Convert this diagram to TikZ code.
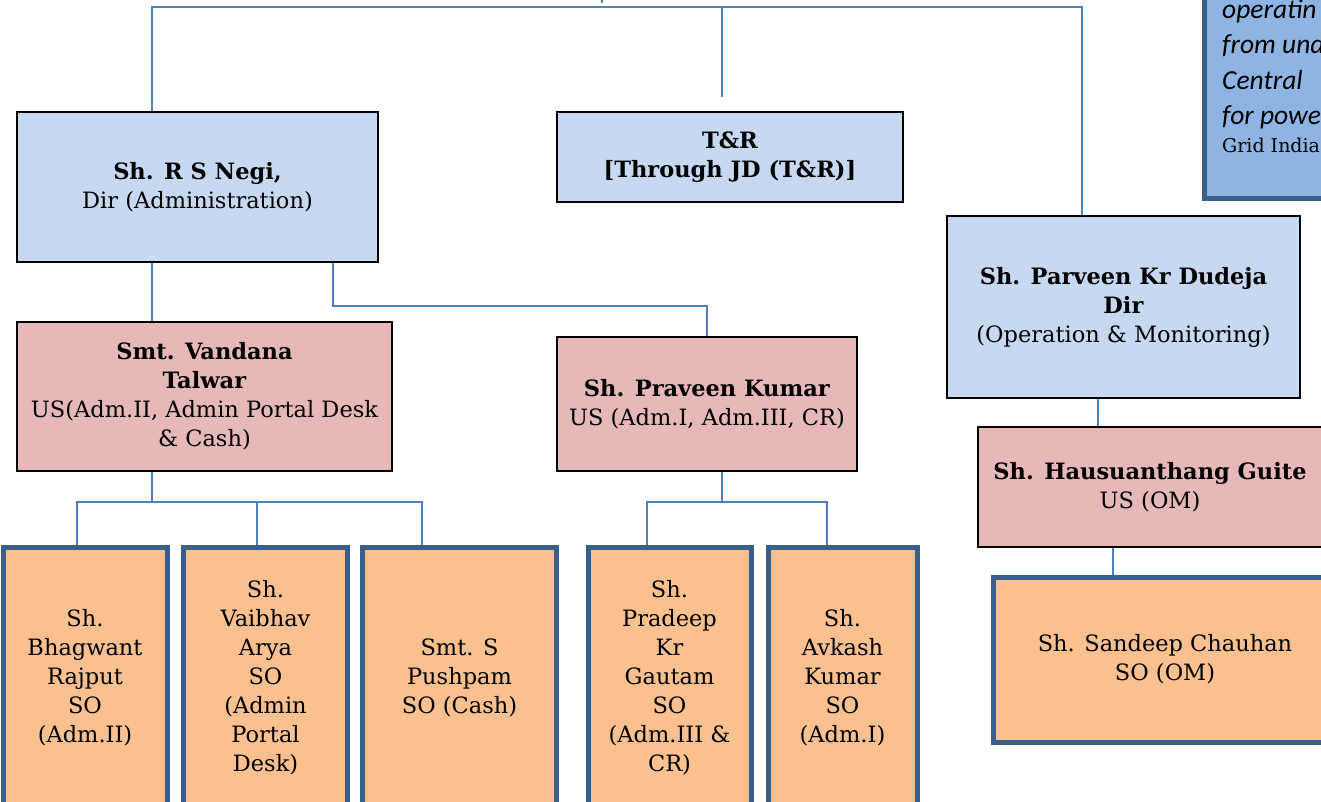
\documentclass[tikz,border=0pt]{standalone}
\usepackage{fontspec}
\setmainfont{DejaVu Serif}
\newfontfamily\notefont{Carlito}
\usetikzlibrary{backgrounds}
\definecolor{dirblue}{HTML}{C6D9F1}
\definecolor{uspink}{HTML}{E6B9B8}
\definecolor{soorange}{HTML}{FAC090}
\definecolor{soframe}{HTML}{3B5F8D}
\definecolor{linkblue}{HTML}{4F81BD}
\definecolor{notefill}{HTML}{8EB4E3}

\begin{document}
\begin{tikzpicture}[x=1pt,y=-1pt,
		box/.style={rectangle,align=center,inner sep=0pt,font=\fontsize{22.5}{29}\selectfont},
		dirbox/.style={box,fill=dirblue,draw=black,line width=2pt},
		usbox/.style={box,fill=uspink,draw=black,line width=2pt},
		sobox/.style={box,fill=soorange,draw=soframe,line width=5pt,minimum height=262pt},
		notetext/.style={anchor=base west,inner sep=0pt,font=\notefont\itshape\fontsize{27.5}{36}\selectfont},
		link/.style={draw=linkblue,line width=2.5pt}]
		\useasboundingbox (0,0) rectangle (1321,802);

		% note box, cut by the page edge
		\node[rectangle,draw=soframe,fill=notefill,line width=4.5pt,minimum width=160pt,minimum height=230pt,anchor=south west] (note) at (1202,201) {};
		\node[notetext] (note1) at (1222,19) {operatin};
		\node[notetext] (note2) at (1222,54) {from und};
		\node[notetext] (note3) at (1222,90) {Central};
		\node[notetext] (note4) at (1222,125) {for powe};
		\node[anchor=base west,inner sep=0pt,font=\fontsize{19}{22}\selectfont] (note5) at (1222,153) {Grid India};

		% directors
		\node[dirbox,minimum width=361pt,minimum height=150pt] (negi) at (197.5,187) {\textbf{Sh. R S Negi,}\\Dir (Administration)};
		\node[dirbox,minimum width=346pt,minimum height=90pt] (tr) at (730,157) {\textbf{T\&R}\\\textbf{[Through JD (T\&R)]}};
		\node[dirbox,minimum width=353pt,minimum height=182pt] (dudeja) at (1123.5,307) {\textbf{Sh. Parveen Kr Dudeja}\\\textbf{Dir}\\(Operation \& Monitoring)};

		% under secretaries
		\node[usbox,minimum width=375pt,minimum height=149pt] (vandana) at (204.5,396.5) {\textbf{Smt. Vandana}\\\textbf{Talwar}\\US(Adm.II, Admin Portal Desk\\\& Cash)};
		\node[usbox,minimum width=300pt,minimum height=134pt] (praveen) at (707,404) {\textbf{Sh. Praveen Kumar}\\US (Adm.I, Adm.III, CR)};
		\node[usbox,minimum width=344pt,minimum height=120pt] (guite) at (1150,487) {\textbf{Sh. Hausuanthang Guite}\\US (OM)};

		% section officers
		\node[sobox,minimum width=164pt] (bhagwant) at (85,678) {Sh.\\Bhagwant\\Rajput\\SO\\(Adm.II)};
		\node[sobox,minimum width=164pt] (vaibhav) at (265.5,678) {Sh.\\Vaibhav\\Arya\\SO\\(Admin\\Portal\\Desk)};
		\node[sobox,minimum width=194pt] (pushpam) at (459.5,678) {Smt. S\\Pushpam\\SO (Cash)};
		\node[sobox,minimum width=163pt] (pradeep) at (669.5,678) {Sh.\\Pradeep\\Kr\\Gautam\\SO\\(Adm.III \&\\CR)};
		\node[sobox,minimum width=149pt] (avkash) at (842.5,678) {Sh.\\Avkash\\Kumar\\SO\\(Adm.I)};
		\node[sobox,minimum width=344pt,minimum height=165pt] (sandeep) at (1165,659.5) {Sh. Sandeep Chauhan\\SO (OM)};

		\coordinate (busL) at (152,7);
		\coordinate (busR) at (1082,7);
		\coordinate (up) at (602,0);
		\coordinate (trtap) at (722,97);
		\coordinate (adm) at (333,306);
		\coordinate (vbus) at (152,502);
		\coordinate (t1) at (77,502);
		\coordinate (t2) at (257,502);
		\coordinate (t3) at (422,502);
		\coordinate (pbus) at (722,502);
		\coordinate (t4) at (647,502);
		\coordinate (t5) at (827,502);
		\coordinate (om1) at (1098,0);
		\coordinate (om2) at (1113,0);

		\begin{scope}[on background layer]
		\draw[link] (negi.north -| busL) -- (busL) -- (busR) -- (dudeja.north -| busR);
		\draw[link] (up) -- ([yshift=4pt]up |- busL);
		\draw[link] (trtap |- busL) -- (trtap);

		\draw[link] (negi.south -| busL) -- (vandana.north -| busL);
		\draw[link] (negi.south -| adm) -- (adm) -| (praveen.north);

		\draw[link] (vandana.south -| vbus) -- (vbus);
		\draw[link] (bhagwant.north -| t1) -- (t1) -- (t3) -- (pushpam.north -| t3);
		\draw[link] (t2) -- (vaibhav.north -| t2);

		\draw[link] (praveen.south -| pbus) -- (pbus);
		\draw[link] (pradeep.north -| t4) -- (t4) -- (t5) -- (avkash.north -| t5);

		\draw[link] (dudeja.south -| om1) -- (guite.north -| om1);
		\draw[link] (guite.south -| om2) -- (sandeep.north -| om2);
		\end{scope}
\end{tikzpicture}
\end{document}
